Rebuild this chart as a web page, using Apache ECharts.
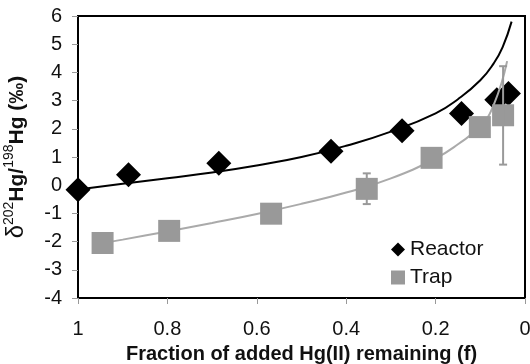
<!DOCTYPE html>
<html>
<head>
<meta charset="utf-8">
<script src="https://cdn.jsdelivr.net/npm/echarts@6/dist/echarts.min.js"></script>
<style>
  html, body { margin: 0; padding: 0; background: #fff; }
  #chart { width: 530px; height: 364px; }
</style>
</head>
<body>
<div id="chart"></div>
<script>
// measured points, [fraction remaining f, delta 202Hg]
var reactorPoints = [[1.0, -0.16], [0.887, 0.37], [0.685, 0.78], [0.434, 1.2], [0.275, 1.93], [0.142, 2.54], [0.063, 3.03], [0.037, 3.25]];
var trapPoints = [[0.945, -2.05], [0.796, -1.62], [0.568, -1.01], [0.354, -0.13], [0.209, 0.97], [0.101, 2.06], [0.049, 2.48]];
// error bars of the trap points, [f, low, high]
var trapErrors = [[0.354, -0.67, 0.42], [0.049, 0.73, 4.22]];
// fitted curves
var reactorFit = [[1.0, -0.15], [0.9, 0.05], [0.8, 0.25], [0.7, 0.45], [0.6, 0.7], [0.5, 1.0], [0.4, 1.4], [0.3, 1.9], [0.2, 2.55], [0.15, 3.05], [0.1, 3.72], [0.07, 4.32], [0.05, 4.9], [0.03, 5.8]];
var trapFit = [[0.945, -2.05], [0.9, -1.93], [0.8, -1.64], [0.7, -1.34], [0.6, -1.02], [0.5, -0.66], [0.4, -0.26], [0.3, 0.24], [0.2, 0.95], [0.15, 1.45], [0.1, 2.1], [0.07, 2.85], [0.04, 4.4]];
var xTicks = { min: 0, max: 1, step: 0.2 };
var yTicks = { min: -4, max: 6, step: 1 };

var chart = echarts.init(document.getElementById("chart"));

var font = "'Liberation Sans', Arial, sans-serif";

var option = {
  animation: false,
  grid: {
    left: 78,
    right: 5,
    top: 16,
    bottom: 66,
    outerBoundsMode: "none",
    containLabel: false,
    show: true,
    borderColor: "#000",
    borderWidth: 2
  },
  legend: {
    data: [
      { name: "Reactor", icon: "diamond" },
      { name: "Trap", icon: "rect" }
    ],
    orient: "vertical",
    left: 386,
    top: 234,
    itemWidth: 14,
    itemHeight: 14,
    itemGap: 7,
    textStyle: { fontFamily: font, fontSize: 21, color: "#111" }
  },
  xAxis: {
    type: "value",
    inverse: true,
    min: xTicks.min,
    max: xTicks.max,
    interval: xTicks.step,
    splitLine: { show: false },
    axisLine: { onZero: false, lineStyle: { color: "#000", width: 2 } },
    axisTick: { show: true, length: 6, lineStyle: { color: "#999" } },
    axisLabel: { margin: 21, fontFamily: font, fontSize: 20, color: "#111" },
    name: "Fraction of added Hg(II) remaining (f)",
    nameLocation: "middle",
    nameGap: 46,
    nameTextStyle: { fontFamily: font, fontSize: 20, fontWeight: "bold", color: "#111" }
  },
  yAxis: {
    type: "value",
    min: yTicks.min,
    max: yTicks.max,
    interval: yTicks.step,
    splitLine: { show: false },
    axisLine: { onZero: false, lineStyle: { color: "#000", width: 2 } },
    axisTick: { show: true, length: 6, lineStyle: { color: "#999" } },
    axisLabel: { margin: 16, fontFamily: font, fontSize: 20, color: "#111" },
    name: "{d|δ}{s|202}{b|Hg/}{s|198}{b|Hg (‰)}",
    nameLocation: "middle",
    nameRotate: 90,
    nameGap: 50,
    nameTextStyle: {
      fontFamily: font,
      color: "#111",
      rich: {
        d: { fontFamily: font, fontSize: 24, lineHeight: 26, color: "#111", verticalAlign: "bottom" },
        s: { fontFamily: font, fontSize: 14, lineHeight: 26, color: "#111", verticalAlign: "top" },
        b: { fontFamily: font, fontSize: 21, fontWeight: "bold", lineHeight: 26, color: "#111", verticalAlign: "bottom" }
      }
    }
  },
  series: [
    {
      name: "Reactor fit",
      type: "line",
      data: reactorFit,
      smooth: true,
      symbol: "none",
      lineStyle: { color: "#000", width: 2 },
      z: 2
    },
    {
      name: "Reactor",
      type: "scatter",
      data: reactorPoints,
      symbol: "diamond",
      symbolSize: 25,
      itemStyle: { color: "#000", opacity: 1 },
      z: 3
    },
    {
      name: "Trap fit",
      type: "line",
      data: trapFit,
      smooth: true,
      symbol: "none",
      lineStyle: { color: "#aaa", width: 2 },
      z: 4
    },
    {
      name: "Trap",
      type: "scatter",
      data: trapPoints,
      symbol: "rect",
      symbolSize: 22,
      itemStyle: { color: "#999", opacity: 1 },
      z: 5
    },
    {
      // error bars
      name: "Trap error",
      type: "custom",
      data: trapErrors,
      z: 6,
      renderItem: function(params, api) {
        var lo = api.coord([api.value(0), api.value(1)]);
        var hi = api.coord([api.value(0), api.value(2)]);
        var cap = 4;
        var style = { stroke: "#999", lineWidth: 2 };
        return {
          type: "group",
          children: [
            { type: "line", shape: { x1: lo[0], y1: lo[1], x2: hi[0], y2: hi[1] }, style: style },
            { type: "line", shape: { x1: lo[0] - cap, y1: lo[1], x2: lo[0] + cap, y2: lo[1] }, style: style },
            { type: "line", shape: { x1: hi[0] - cap, y1: hi[1], x2: hi[0] + cap, y2: hi[1] }, style: style }
          ]
        };
      }
    }
  ]
};

chart.setOption(option);
</script>
</body>
</html>
